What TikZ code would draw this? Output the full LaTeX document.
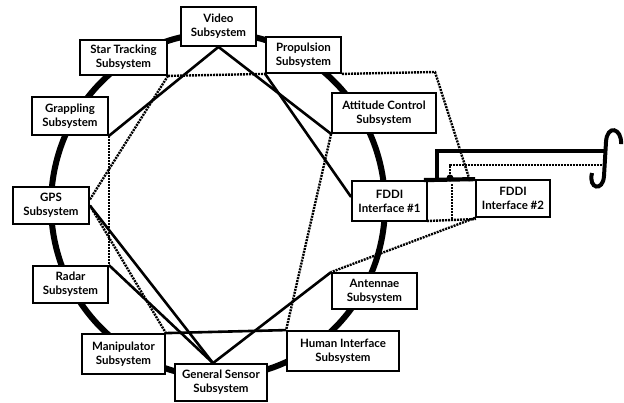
\documentclass[tikz,border=0pt]{standalone}
\usepackage{fontspec}
\setmainfont{Lato}
\usetikzlibrary{calc}
\pgfdeclarelayer{background}
\pgfsetlayers{background,main}
\begin{document}
\begin{tikzpicture}[x=1pt,y=-1pt,
  box/.style={draw, line width=1.8pt, fill=white, align=center, inner sep=0pt,
    font=\fontsize{11.5}{14}\selectfont\bfseries},
  ringline/.style={line width=6pt},
  link/.style={line width=2.6pt},
  dlink/.style={line width=2.4pt, dash pattern=on 2pt off 1pt},
  heavy/.style={line width=4.2pt}]
\useasboundingbox (0,0) rectangle (624,402);
% nodes
\node[box, minimum width=75pt, minimum height=39pt] (video) at (218.5,26.5) {Video\\Subsystem};
\node[box, minimum width=87pt, minimum height=35pt] (star) at (123.5,57.5) {Star Tracking\\Subsystem};
\node[box, minimum width=75pt, minimum height=36pt] (prop) at (303.5,55) {Propulsion\\Subsystem};
\node[box, minimum width=76pt, minimum height=38pt] (grap) at (70,116) {Grappling\\Subsystem};
\node[box, minimum width=104pt, minimum height=40pt] (att) at (384,113) {Attitude Control\\Subsystem};
\node[box, minimum width=76pt, minimum height=37pt] (gps) at (51,205.5) {GPS\\Subsystem};
\node[box, minimum width=75pt, minimum height=40pt] (fddi1) at (389.5,201) {FDDI\\Interface \#1};
\node[box, minimum width=74pt, minimum height=37pt] (fddi2) at (513,198.5) {FDDI\\Interface \#2};
\node[box, minimum width=75pt, minimum height=37pt] (radar) at (70.5,284.5) {Radar\\Subsystem};
\node[box, minimum width=85pt, minimum height=36pt] (ant) at (374.5,291) {Antennae\\Subsystem};
\node[box, minimum width=83pt, minimum height=40pt] (manip) at (123.5,354) {Manipulator\\Subsystem};
\node[box, minimum width=112pt, minimum height=40pt] (human) at (343,351) {Human Interface\\Subsystem};
\node[box, minimum width=92pt, minimum height=37pt] (gs) at (221,382.5) {General Sensor\\Subsystem};
% ring
\begin{pgfonlayer}{background}
\draw[ringline] (218,205) ellipse [x radius=167pt, y radius=172pt];
\end{pgfonlayer}
% inner solid links
\draw[link] (video.south) -- (grap.south east);
\draw[link] (video.south) -- (att.south west);
\draw[link] (prop.south west) -- ([yshift=4pt]fddi1.west);
\draw[link] (gps.east) -- ([xshift=-8pt]gs.north);
\draw[link] (radar.north east) -- ([xshift=-8pt]gs.north);
\draw[link] (ant.north west) -- ([xshift=-8pt]gs.north);
\draw[link] (manip.north east) -- (human.north west);
% inner dotted links
\coordinate (c1) at (435,72);
\coordinate (c2) at (470,181);
\draw[dlink] (star.south east) -- ([yshift=6pt]gps.east);
\draw[dlink] (star.south east) -- (prop.south west);
\draw[dlink] (prop.south east) -- (c1) -- (c2);
\draw[dlink] (grap.south east) -- (radar.north east);
\draw[dlink] (gps.east) -- (manip.north east);
\draw[dlink] (att.south west) -- (human.north west);
\draw[dlink] (fddi2.south west) -- (ant.north west);
% FDDI interconnect
\coordinate (t0) at (437,181);
\coordinate (h1) at (606,151);
\coordinate (d1) at (450,165);
\coordinate (h2) at (604,165);
\coordinate (v1) at (452,184);
\coordinate (v2) at (452,221);
\coordinate (b1) at (427,221);
\coordinate (b2) at (476,219);
\draw[heavy] ([xshift=-4pt]fddi1.north east) -- (fddi2.north west);
\draw[heavy] (t0) |- (h1);
\node[circle, fill=black, inner sep=0pt, minimum size=7pt] (dot) at (450,178) {};
\draw[dlink] (dot) -- (d1) -- (h2);
\draw[dlink] (v1) -- (v2);
\draw[dlink] (b1) -- (b2);
% terminator hook
\draw[line width=4pt] (621,144) .. controls (622,128) and (607,124) .. (606,142)
  -- (604,176) .. controls (603,192) and (588,189) .. (592,173);
\end{tikzpicture}
\end{document}
